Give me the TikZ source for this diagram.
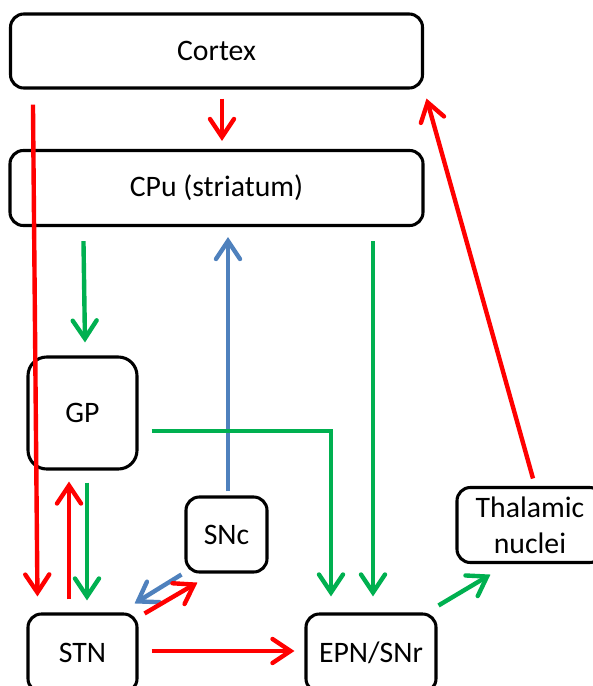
\documentclass[tikz,border=0pt]{standalone}
\usepackage{fontspec}
\setmainfont{Carlito}
\usetikzlibrary{arrows.meta,calc}
\definecolor{cred}{RGB}{255,0,0}
\definecolor{cgreen}{RGB}{0,176,80}
\definecolor{cblue}{RGB}{79,129,189}
\begin{document}
\begin{tikzpicture}[x=0.75pt,y=-0.75pt,
  box/.style={draw=black,line width=2.3pt,rounded corners=10pt,align=center,
    font=\fontsize{22.3pt}{27pt}\selectfont,inner sep=0pt},
  conn/.style={line width=3.3pt,-{Straight Barb[length=13.5pt,width=18pt,line cap=round]}},
  redarr/.style={conn,draw=cred},
  greenarr/.style={conn,draw=cgreen},
  bluearr/.style={conn,draw=cblue}]
\useasboundingbox (0,0) rectangle (593,686);
\clip (0,0) rectangle (593,686);
\node[box,minimum width=412*0.75pt,minimum height=74*0.75pt] (cortex) at (216.5,51) {Cortex};
\node[box,minimum width=413*0.75pt,minimum height=75*0.75pt] (cpu) at (216.5,188) {CPu (striatum)};
\node[box,rounded corners=14pt,minimum width=109*0.75pt,minimum height=112*0.75pt] (gp) at (82.5,413) {GP};
\node[box,minimum width=81*0.75pt,minimum height=75*0.75pt] (snc) at (226.5,534.5) {SNc};
\node[box,minimum width=146*0.75pt,minimum height=75*0.75pt] (thal) at (530,525) {Thalamic\\nuclei};
\node[box,minimum width=109*0.75pt,minimum height=78*0.75pt] (stn) at (82.5,653) {STN};
\node[box,minimum width=130*0.75pt,minimum height=78*0.75pt] (epn) at (371,653) {EPN/SNr};

\draw[redarr] ($(cortex.south)+(5.5,9)$) -- ($(cpu.north)+(5.5,-8)$);
\draw[redarr] ($(cortex.south west)+(24,15)$) -- ($(stn.north west)+(11,-16)$);
\draw[greenarr] ($(cpu.south west)+(75,14)$) -- ($(gp.north)+(2.5,-13)$);
\draw[bluearr] ($(snc.north)+(1.5,-4)$) -- ($(cpu.south)+(11.5,10)$);
\draw[greenarr] ($(cpu.south)+(156.5,14)$) -- ($(epn.north)+(2,-16)$);
\draw[greenarr] ($(gp.east)+(13,18)$) -| ($(epn.north)+(-40,-16)$);
\draw[redarr] ($(stn.north)+(-13.5,-13)$) -- ($(gp.south)+(-13.5,11)$);
\draw[greenarr] ($(gp.south)+(4.5,12)$) -- ($(stn.north)+(4.5,-12)$);
\draw[bluearr] ($(snc.south west)+(-3,1)$) -- ($(stn.north east)+(-4,-9)$);
\draw[redarr] ($(stn.north east)+(6,1)$) -- ($(snc.south west)+(13,9)$);
\draw[redarr] ($(stn.east)+(13,-2)$) -- ($(epn.west)+(-10,-2)$);
\draw[greenarr] ($(epn.north east)+(1,-7)$) -- ($(thal.south west)+(35,10.5)$);
\draw[redarr] ($(thal.north)+(3,-7.5)$) -- ($(cortex.south east)+(2.5,9)$);
\end{tikzpicture}
\end{document}
